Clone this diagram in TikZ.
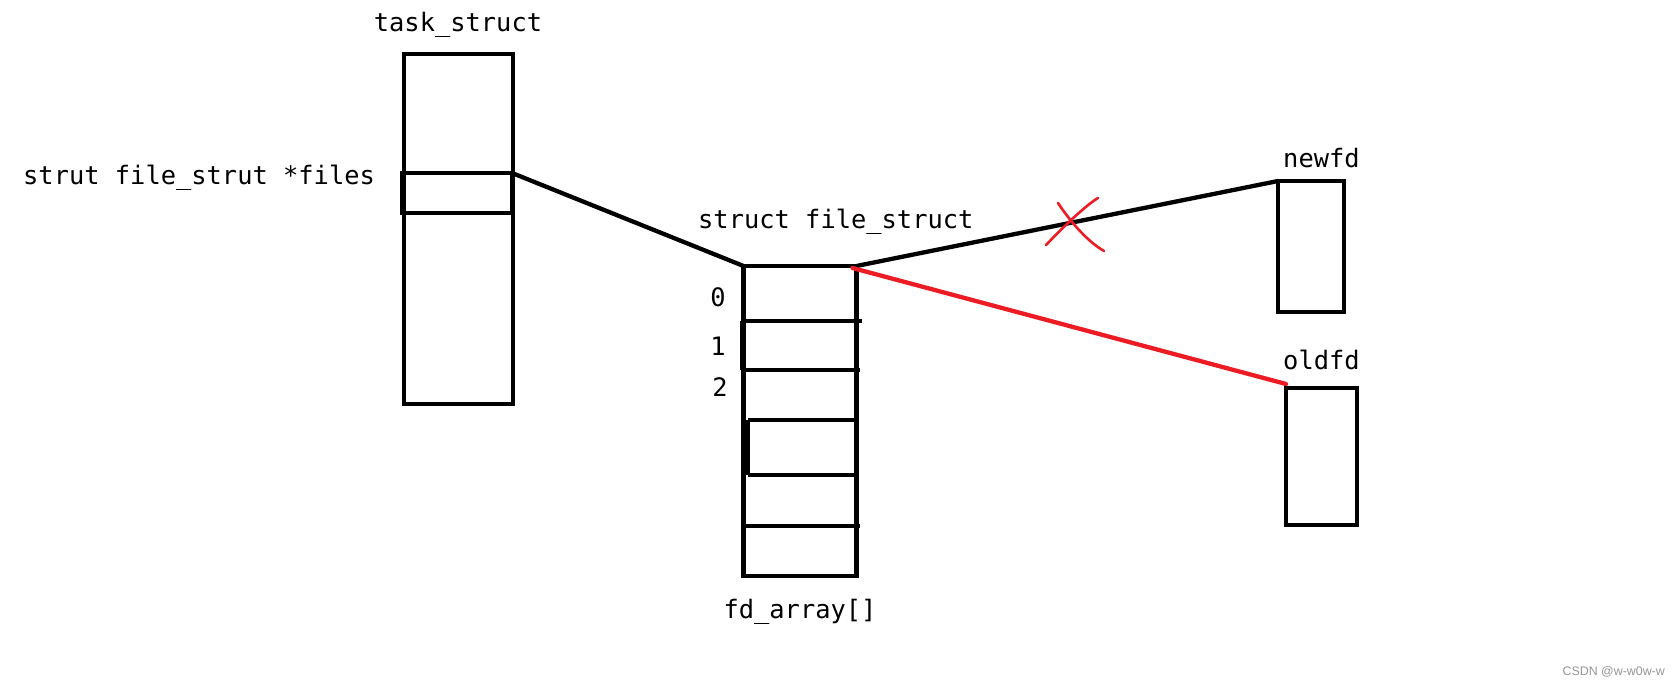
\documentclass[tikz,border=0pt]{standalone}
\usepackage{fontspec}
\newfontfamily\monofnt{DejaVu Sans Mono}
\newfontfamily\wmfnt{Liberation Sans}
\definecolor{pred}{RGB}{237,28,36}
\definecolor{wmgray}{RGB}{150,150,150}
\begin{document}
\begin{tikzpicture}[x=1pt,y=-1pt,
  box/.style={draw=black,line width=4.5pt,inner sep=0pt,outer sep=0pt,rectangle},
  lbl/.style={inner sep=0pt,anchor=base west,font=\monofnt\fontsize{25.4}{30}\selectfont},
  conn/.style={draw=black,line width=4.3pt,line cap=round},
  redconn/.style={draw=pred,line width=4.3pt,line cap=round},
  redx/.style={draw=pred,line width=2.6pt,line cap=round}]
\fill[white] (0,0) rectangle (1679,684);
\useasboundingbox (0,0) rectangle (1679,684);

% task_struct
\node[box,minimum width=109pt,minimum height=350pt] (task) at (458.5,229) {};
\node[box,minimum width=110pt,minimum height=40pt] (files) at (457,193) {};
\node[lbl,anchor=base] (tasklbl) at (458,32) {task\_struct};
\node[lbl] (fileslbl) at (23,185) {strut file\_strut *files};

% fd_array
\node[box,minimum width=113pt,minimum height=310pt] (fd) at (800,421) {};
\draw[line width=4.5pt] (742,321) -- (862,321);
\draw[line width=4.7pt] (742,321) -- (742,370);
\draw[line width=4.5pt] (742,370) -- (860,370);
\draw[line width=4.5pt] (748,420) -- (855,420);
\draw[line width=4.7pt] (748,420) -- (748,475);
\draw[line width=4.5pt] (748,475) -- (855,475);
\draw[line width=4.5pt] (744,526) -- (860,526);
\node[lbl,anchor=base] (fdlbl) at (800,618) {fd\_array[]};
\node[lbl] (fslbl) at (698,229) {struct file\_struct};
\node[lbl,anchor=base] (i0) at (718,307) {0};
\node[lbl,anchor=base] (i1) at (718,356) {1};
\node[lbl,anchor=base] (i2) at (720,397) {2};

% newfd / oldfd
\node[box,minimum width=66pt,minimum height=131pt] (newfd) at (1311,246.5) {};
\node[lbl] (newlbl) at (1283,168) {newfd};
\node[box,minimum width=71pt,minimum height=137pt] (oldfd) at (1321.5,456.5) {};
\node[lbl] (oldlbl) at (1283,370) {oldfd};

% connectors
\draw[conn] (files.north east) -- (fd.north west);
\draw[conn] (fd.north east) -- (newfd.north west);
\draw[redconn] ([xshift=-4pt,yshift=-2pt]fd.north east) -- ([yshift=4pt]oldfd.north west);

% red cross
\draw[redx] (1058,203) .. controls (1068,218) and (1085,240) .. (1104,251);
\draw[redx] (1098,198) .. controls (1088,204) and (1070,220) .. (1046,245);

% watermark
\node[inner sep=0pt,anchor=base east,text=wmgray,font=\wmfnt\fontsize{12.4}{14}\selectfont] (wm) at (1665,675) {CSDN @w-w0w-w};
\end{tikzpicture}
\end{document}
